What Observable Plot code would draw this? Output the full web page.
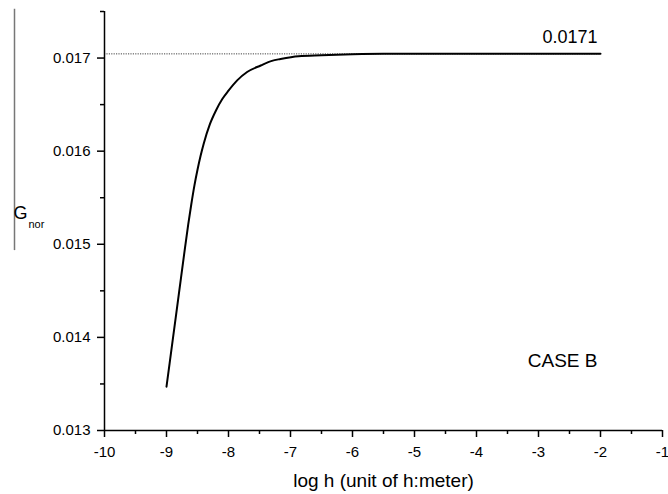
<!DOCTYPE html>
<html><head><meta charset="utf-8">
<script src="https://cdn.jsdelivr.net/npm/d3@7"></script>
<script src="https://cdn.jsdelivr.net/npm/@observablehq/plot@0.6"></script>
<style>
html,body{margin:0;padding:0;background:#fff}
svg{font-family:"Liberation Sans",Arial,sans-serif}
</style>
</head><body><div id="chart"></div>
<script>
// data
const logH = [-9.0,-8.9,-8.8,-8.7,-8.65,-8.6,-8.55,-8.5,-8.45,-8.4,-8.3,-8.2,-8.1,-8.0,-7.86,-7.7,-7.48,-7.3,-7.16,-6.87,-6.5,-6.0,-5.5,-5.0,-4.0,-3.0,-2.0];
const gnor = [0.01347,0.01397,0.01447,0.01497,0.01521,0.01543,0.01563,0.01580,0.01595,0.01608,0.01629,0.01644,0.01656,0.01665,0.01676,0.01685,0.01692,0.01697,0.01699,0.01702,0.01703,0.01704,0.017045,0.017045,0.017045,0.017045,0.017045];
const plateauValue = 0.017045;
const plateauRange = [-10, -2];
const plateauLabel = "0.0171";
const caseLabel = "CASE B";
const caseLabelPos = {x: -2, y: 0.013685};
const xTicks = [-10,-9,-8,-7,-6,-5,-4,-3,-2,-1];
const xMinor = [-9.5,-8.5,-7.5,-6.5,-5.5,-4.5,-3.5,-2.5,-1.5];
const yTicks = [0.013,0.014,0.015,0.016,0.017];
const yMinor = [0.0135,0.0145,0.0155,0.0165,0.0175];
const xTitle = "log h (unit of h:meter)";
const yTitleMain = "G";
const yTitleSub = "nor";

const data = logH.map((x, i) => ({x, y: gnor[i]}));

const chart = Plot.plot({
  width: 668,
  height: 494,
  marginLeft: 104,
  marginRight: 6,
  marginTop: 11,
  marginBottom: 64,
  style: {background: "#fff", color: "#000", fontSize: "15px", fontFamily: "'Liberation Sans', Arial, sans-serif", overflow: "visible"},
  x: {domain: [-10, -1]},
  y: {domain: [0.013, 0.0175]},
  marks: [
    Plot.ruleY([plateauValue], {x1: plateauRange[0], x2: plateauRange[1], stroke: "#444", strokeWidth: 1, strokeDasharray: "1.2,1.2"}),
    Plot.line(data, {x: "x", y: "y", curve: "monotone-x", stroke: "#000", strokeWidth: 2}),
    Plot.ruleX([-10], {stroke: "#000", strokeWidth: 1.5}),
    Plot.ruleY([0.013], {stroke: "#000", strokeWidth: 1.5}),
    Plot.axisX({ticks: xTicks, tickSize: 7, tickPadding: 9, tickFormat: d => String(d), label: null, strokeWidth: 1.5}),
    Plot.axisX({ticks: xMinor, tickSize: 4, tickFormat: () => "", label: null, strokeWidth: 1.5}),
    Plot.axisY({ticks: yTicks, tickSize: 7, tickPadding: 7, tickFormat: d3.format(".3f"), label: null, strokeWidth: 1.5}),
    Plot.axisY({ticks: yMinor, tickSize: 4, tickFormat: () => "", label: null, strokeWidth: 1.5}),
    Plot.text([plateauLabel], {x: plateauRange[1], y: plateauValue, text: d => d, textAnchor: "end", lineAnchor: "bottom", dx: -3, dy: -10.5, fontSize: 18}),
    Plot.text([caseLabel], {x: caseLabelPos.x, y: caseLabelPos.y, text: d => d, textAnchor: "end", lineAnchor: "bottom", dx: -3, fontSize: 19}),
    Plot.text([xTitle], {frameAnchor: "bottom", text: d => d, lineAnchor: "bottom", dy: 56, fontSize: 19}),
    Plot.ruleX([-10], {y1: 0.017524, y2: 0.014932, dx: -90, stroke: "#777", strokeWidth: 1.5}),
    Plot.text([yTitleMain], {frameAnchor: "top-left", text: d => d, textAnchor: "start", lineAnchor: "bottom", dx: -91, dy: 207, fontSize: 18}),
    Plot.text([yTitleSub], {frameAnchor: "top-left", text: d => d, textAnchor: "start", lineAnchor: "bottom", dx: -76, dy: 216, fontSize: 11})
  ]
});
document.getElementById("chart").append(chart);
</script>
</body></html>
